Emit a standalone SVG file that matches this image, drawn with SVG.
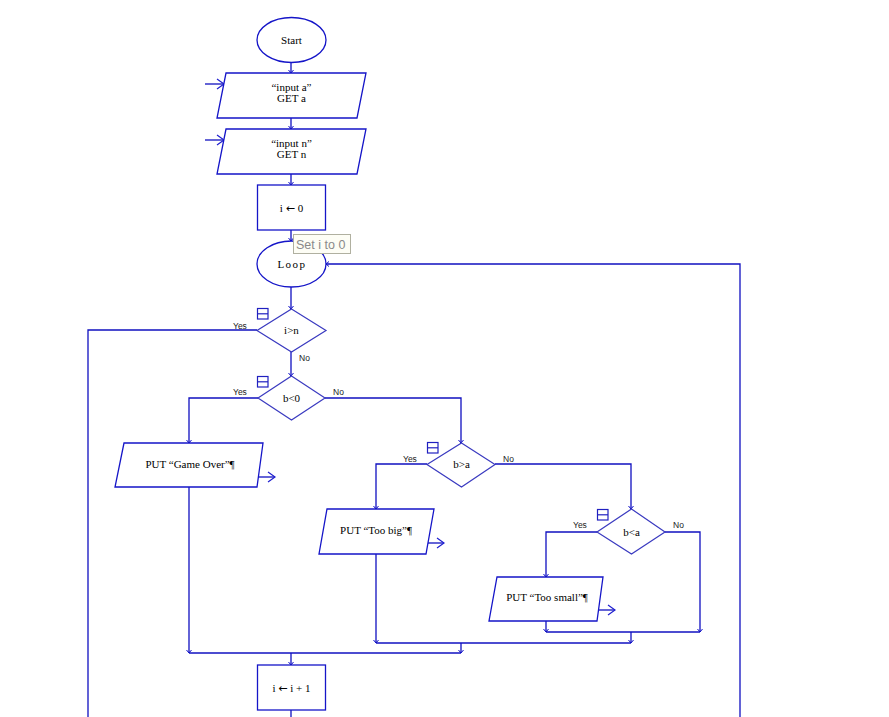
<svg xmlns="http://www.w3.org/2000/svg" width="889" height="717" viewBox="0 0 889 717">
<defs>
<marker id="a" markerUnits="userSpaceOnUse" markerWidth="8" markerHeight="8" refX="0" refY="0" viewBox="-4 -4 8 8" orient="auto" overflow="visible">
<path d="M-3,-2.5 L0,0 L-3,2.5" fill="none" stroke="#1010c8" stroke-width="1"/>
</marker>
<marker id="io" markerUnits="userSpaceOnUse" markerWidth="12" markerHeight="12" refX="0" refY="0" viewBox="-10 -6 12 12" orient="auto" overflow="visible">
<path d="M-7,-5 L0,0 L-7,5" fill="none" stroke="#2020d0" stroke-width="1.2"/>
</marker>
</defs>
<style>
.s{fill:#fff;stroke:#1515c8;stroke-width:1.3}
.d{fill:#fff;stroke:#3a3ac0;stroke-width:1.2}
.c{fill:none;stroke:#1010c0;stroke-width:1.3}
.t{font-family:"Liberation Serif",serif;font-size:11px;fill:#000;text-anchor:middle}
.m{font-family:"Liberation Serif",serif;font-size:11px;fill:#000;text-anchor:middle;letter-spacing:1.5px}
.ar{font-family:"DejaVu Sans",sans-serif;font-size:11px}
.l{font-family:"Liberation Sans",sans-serif;font-size:8.5px;fill:#222}
.ic{fill:none;stroke:#2020c0;stroke-width:1.2}
</style>
<rect width="889" height="717" fill="#fff"/>
<g id="connectors">
<path class="c" d="M291,62 V73" marker-end="url(#a)"/>
<path class="c" d="M291,118 V129" marker-end="url(#a)"/>
<path class="c" d="M291,174 V185" marker-end="url(#a)"/>
<path class="c" d="M291,230 V241" marker-end="url(#a)"/>
<path class="c" d="M291,287 V309" marker-end="url(#a)"/>
<path class="c" d="M291,352 V376" marker-end="url(#a)"/>
<path class="c" d="M740,717 V264 H326" marker-end="url(#a)"/>
<path class="c" d="M257,330 H88 V717"/>
<path class="c" d="M258,398 H189 V443" marker-end="url(#a)"/>
<path class="c" d="M325,398 H461 V443" marker-end="url(#a)"/>
<path class="c" d="M189,487 V653" marker-end="url(#a)"/>
<path class="c" d="M427,464 H376 V509" marker-end="url(#a)"/>
<path class="c" d="M495,464 H631 V509" marker-end="url(#a)"/>
<path class="c" d="M376,554 V643" marker-end="url(#a)"/>
<path class="c" d="M597,532 H546 V577" marker-end="url(#a)"/>
<path class="c" d="M665,532 H700 V632" marker-end="url(#a)"/>
<path class="c" d="M546,621 V632" marker-end="url(#a)"/>
<path class="c" d="M546,632 H700"/>
<path class="c" d="M631,632 V643" marker-end="url(#a)"/>
<path class="c" d="M376,643 H631"/>
<path class="c" d="M461,643 V653" marker-end="url(#a)"/>
<path class="c" d="M189,653 H461"/>
<path class="c" d="M291,653 V665" marker-end="url(#a)"/>
<path class="c" d="M291,710 V717"/>
<path class="c" d="M205,84 H224" marker-end="url(#io)"/>
<path class="c" d="M205,140 H224" marker-end="url(#io)"/>
<path class="c" d="M257,477 H275" marker-end="url(#io)"/>
<path class="c" d="M426,543 H444" marker-end="url(#io)"/>
<path class="c" d="M597,610 H615" marker-end="url(#io)"/>
</g>
<g id="start">
<ellipse class="s" cx="291.5" cy="40" rx="34.5" ry="22.5"/>
<text class="t" x="291.5" y="44" font-size="10">Start</text>
</g>
<g id="input-a">
<polygon class="s" points="226,73 366,73 357,118 217,118"/>
<text class="t" x="291.5" y="91">“input a”</text>
<text class="t" x="291.5" y="102">GET a</text>
</g>
<g id="input-n">
<polygon class="s" points="226,129 366,129 357,174 217,174"/>
<text class="t" x="291.5" y="147">“input n”</text>
<text class="t" x="291.5" y="158">GET n</text>
</g>
<g id="set-i">
<rect class="s" x="257.5" y="185" width="68" height="45"/>
<text class="t" x="291.5" y="212">i <tspan class="ar">←</tspan> 0</text>
</g>
<g id="loop">
<ellipse class="s" cx="291.5" cy="264" rx="34.5" ry="23"/>
<text class="m" x="292" y="268">Loop</text>
</g>
<g id="tooltip">
<rect x="293.5" y="234.5" width="57" height="19" fill="#fdfdf5" stroke="#b0b0a0" stroke-width="1"/>
<text x="296" y="249" font-family="'Liberation Sans',sans-serif" font-size="12.5" fill="#8a8a8a">Set i to 0</text>
</g>
<g id="dec-i-n">
<polygon class="d" points="291.5,309 326,330.5 291.5,352 257,330.5"/>
<text class="t" x="291.5" y="334">i&gt;n</text>
<rect class="ic" x="257.5" y="308.5" width="10.5" height="10.5"/>
<line class="ic" x1="257.5" y1="313.8" x2="268" y2="313.8"/>
<text class="l" x="233" y="329">Yes</text>
<text class="l" x="299" y="361">No</text>
</g>
<g id="dec-b-0">
<polygon class="d" points="291.5,376 325,398 291.5,420 258,398"/>
<text class="t" x="291.5" y="402">b&lt;0</text>
<rect class="ic" x="257.5" y="376.5" width="10.5" height="10.5"/>
<line class="ic" x1="257.5" y1="381.8" x2="268" y2="381.8"/>
<text class="l" x="233" y="395">Yes</text>
<text class="l" x="333" y="395">No</text>
</g>
<g id="put-game-over">
<polygon class="s" points="124,443 263,443 257,487 115,487"/>
<text class="t" x="190" y="468">PUT “Game Over”¶</text>
</g>
<g id="dec-b-gt-a">
<polygon class="d" points="461.5,443 495,464.5 461.5,487 427,464.5"/>
<text class="t" x="461.5" y="468">b&gt;a</text>
<rect class="ic" x="427.5" y="442.5" width="10.5" height="10.5"/>
<line class="ic" x1="427.5" y1="447.8" x2="438" y2="447.8"/>
<text class="l" x="403" y="462">Yes</text>
<text class="l" x="503" y="462">No</text>
</g>
<g id="put-too-big">
<polygon class="s" points="327,509 434,509 426,554 319,554"/>
<text class="t" x="376" y="534">PUT “Too big”¶</text>
</g>
<g id="dec-b-lt-a">
<polygon class="d" points="631.5,509 665,532 631.5,554 597,532"/>
<text class="t" x="631.5" y="536">b&lt;a</text>
<rect class="ic" x="597.5" y="509.5" width="10.5" height="10.5"/>
<line class="ic" x1="597.5" y1="514.8" x2="608" y2="514.8"/>
<text class="l" x="573" y="528">Yes</text>
<text class="l" x="673" y="528">No</text>
</g>
<g id="put-too-small">
<polygon class="s" points="497,577 603,577 597,621 489,621"/>
<text class="t" x="547" y="601">PUT “Too small”¶</text>
</g>
<g id="inc-i">
<rect class="s" x="257.5" y="665" width="68" height="45"/>
<text class="t" x="291.5" y="692">i <tspan class="ar">←</tspan> i + 1</text>
</g>
</svg>
